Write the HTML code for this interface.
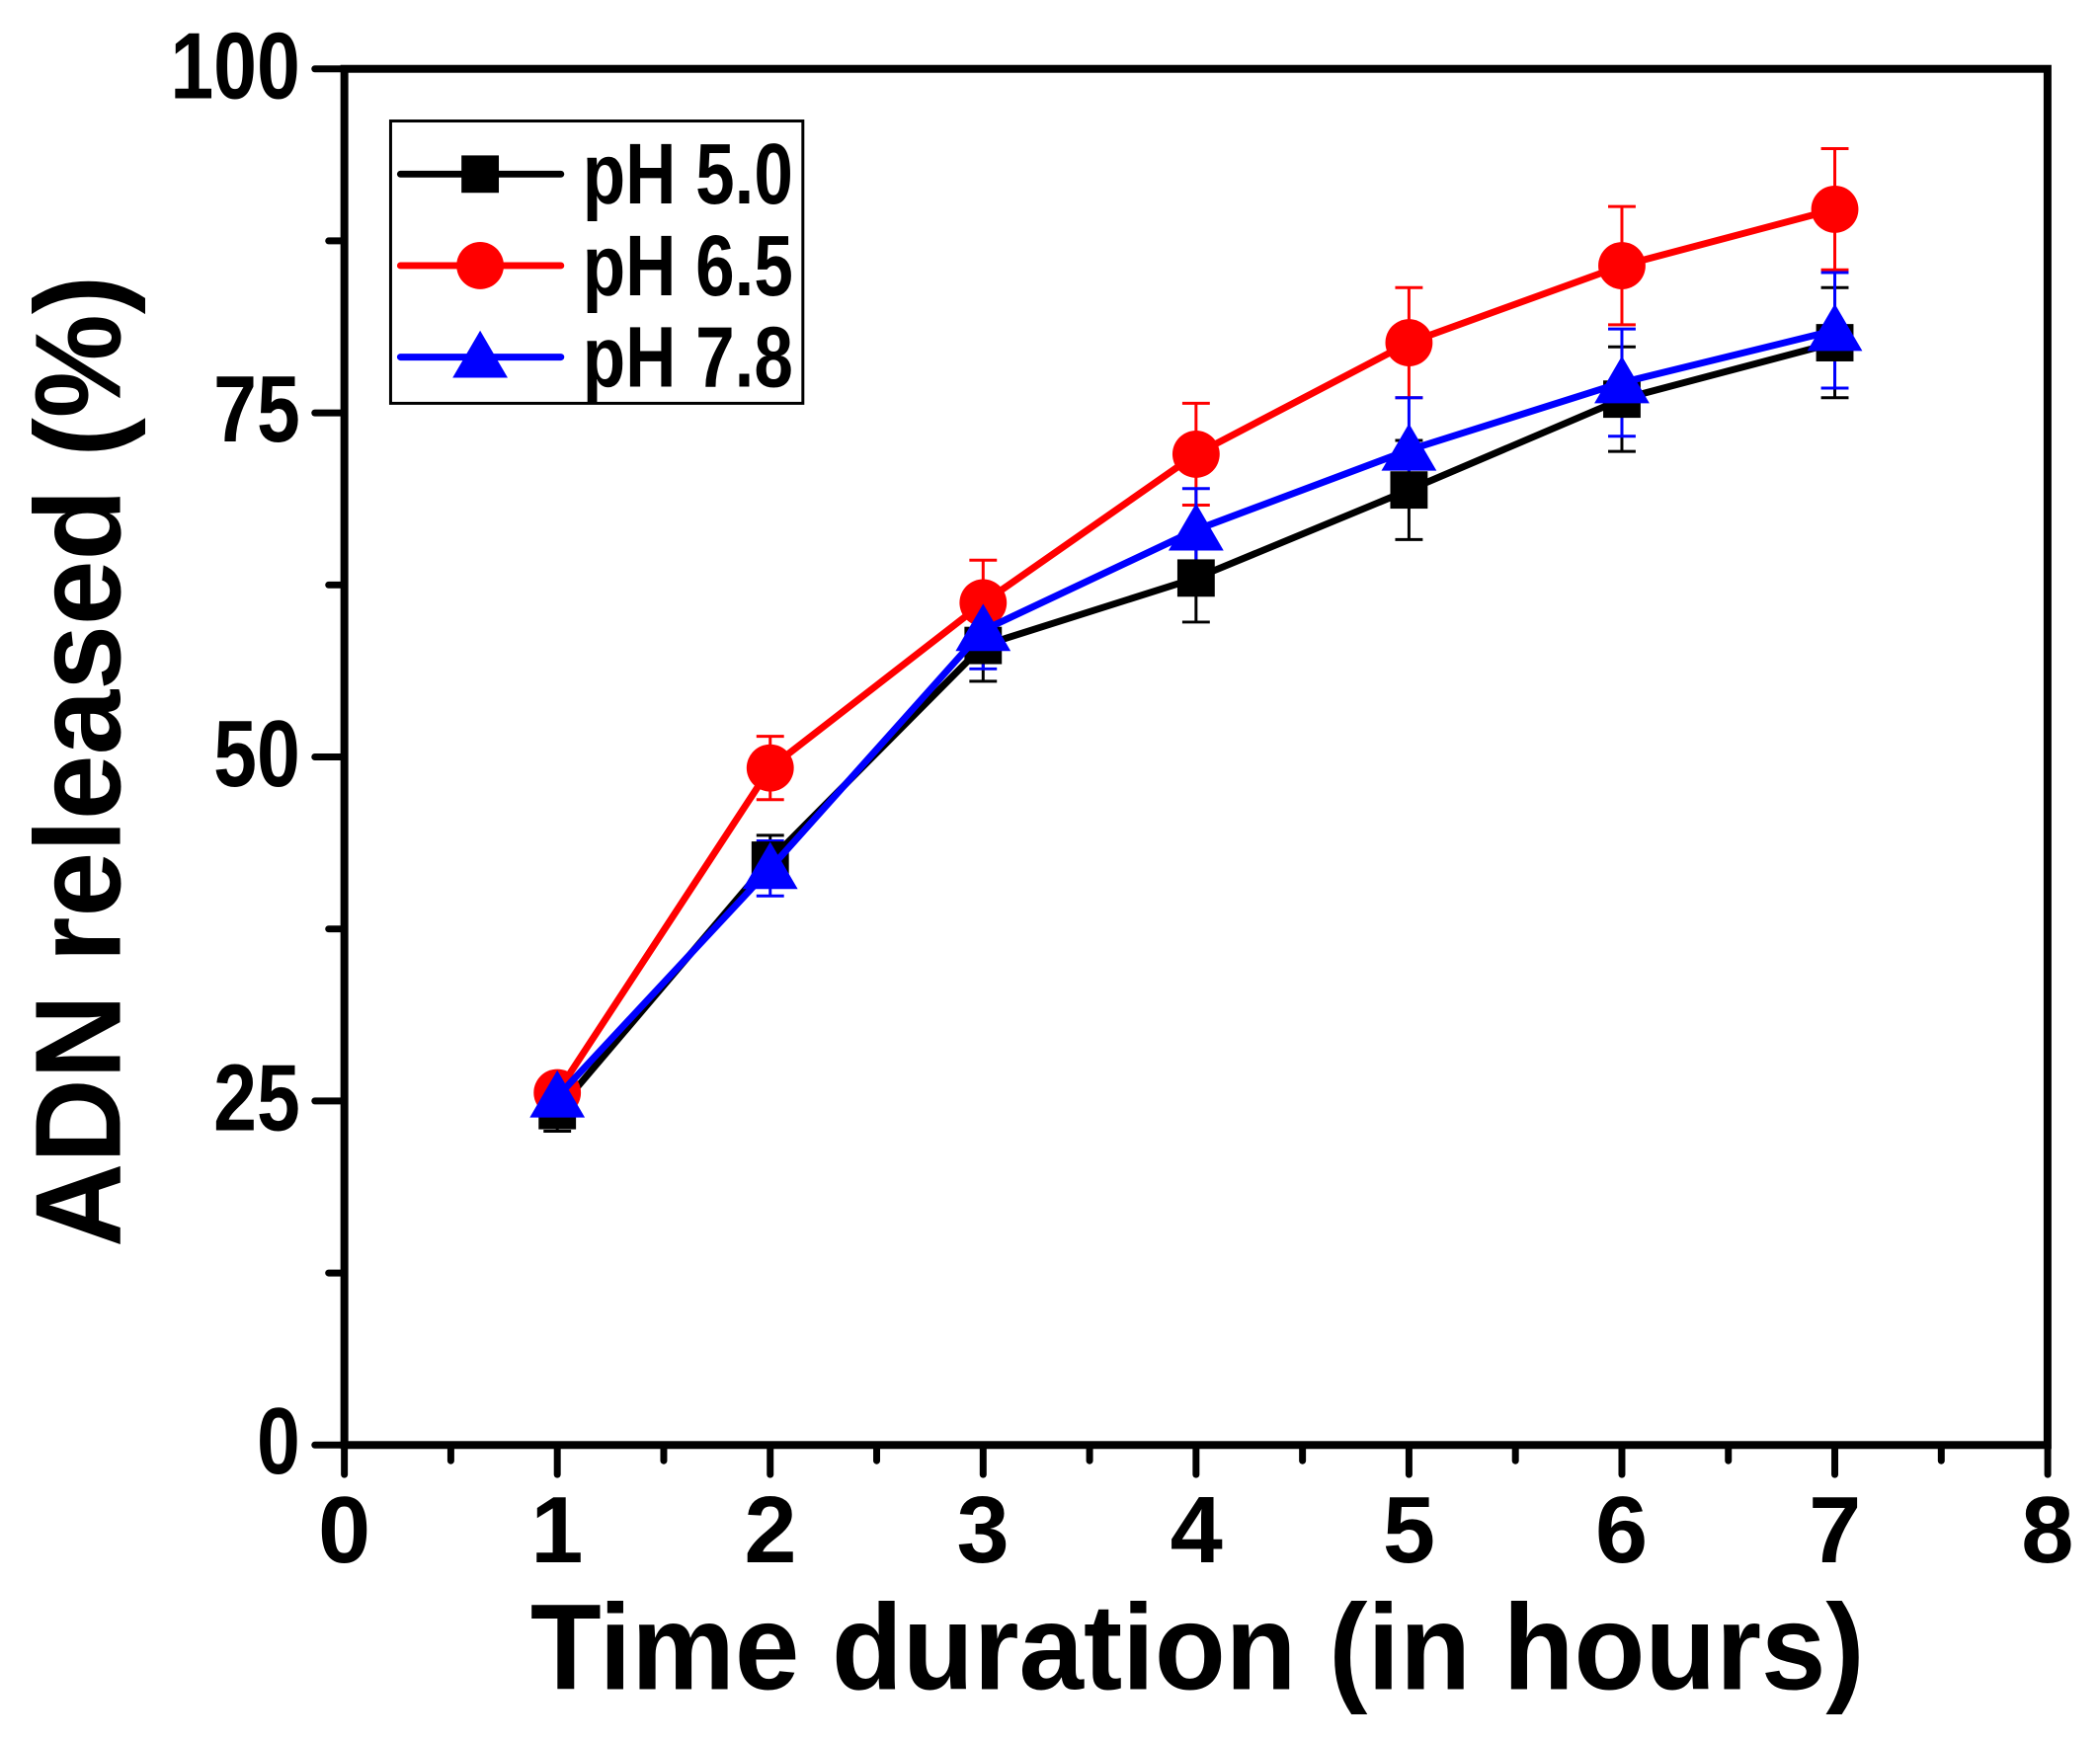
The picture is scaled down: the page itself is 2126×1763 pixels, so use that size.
<!DOCTYPE html>
<html><head><meta charset="utf-8"><style>
html,body{margin:0;padding:0;background:#fff;}
svg{display:block;}
text{font-family:"Liberation Sans",Arial,sans-serif;font-weight:bold;fill:#000;}
</style></head><body>
<svg id="s" width="2126" height="1763" viewBox="0 0 2126 1763" xmlns="http://www.w3.org/2000/svg">
<rect width="2126" height="1763" fill="#fff"/>
<g transform="scale(0.9961)">
<g id="ticks" stroke="#000" stroke-width="7" stroke-linecap="round"></g>
<rect x="350" y="70" width="1731" height="1399" fill="none" stroke="#000" stroke-width="8"/>
<g id="data"></g>
<g font-size="96" text-anchor="end">
<text x="305" y="100" textLength="132" lengthAdjust="spacingAndGlyphs">100</text>
<text x="305" y="449" textLength="88" lengthAdjust="spacingAndGlyphs">75</text>
<text x="305" y="799" textLength="88" lengthAdjust="spacingAndGlyphs">50</text>
<text x="305" y="1149" textLength="88" lengthAdjust="spacingAndGlyphs">25</text>
<text x="305" y="1498" textLength="44" lengthAdjust="spacingAndGlyphs">0</text>
</g>
<g font-size="96" text-anchor="middle">
<text x="350" y="1588">0</text>
<text x="566" y="1588">1</text>
<text x="783" y="1588">2</text>
<text x="999" y="1588">3</text>
<text x="1216" y="1588">4</text>
<text x="1432" y="1588">5</text>
<text x="1648" y="1588">6</text>
<text x="1865" y="1588">7</text>
<text x="2081" y="1588">8</text>
</g>
<text x="539" y="1717" font-size="124" textLength="1356" lengthAdjust="spacingAndGlyphs">Time duration (in hours)</text>
<text transform="translate(122,1268) rotate(-90)" font-size="124" textLength="988" lengthAdjust="spacingAndGlyphs">ADN released (%)</text>
<rect x="397" y="123" width="419" height="287" fill="#fff" stroke="#000" stroke-width="3"/>
<line x1="407" y1="177" x2="570" y2="177" stroke="#000" stroke-width="7" stroke-linecap="round"/>
<rect x="469" y="158" width="38" height="38" fill="#000"/>
<line x1="407" y1="270" x2="570" y2="270" stroke="#f00" stroke-width="7" stroke-linecap="round"/>
<circle cx="488" cy="270" r="24" fill="#f00"/>
<line x1="407" y1="363" x2="570" y2="363" stroke="#00f" stroke-width="7" stroke-linecap="round"/>
<polygon points="488,336 516,384 460,384" fill="#00f"/>
<g font-size="88">
<text x="592" y="207" textLength="214" lengthAdjust="spacingAndGlyphs">pH 5.0</text>
<text x="592" y="300" textLength="214" lengthAdjust="spacingAndGlyphs">pH 6.5</text>
<text x="592" y="393" textLength="214" lengthAdjust="spacingAndGlyphs">pH 7.8</text>
</g>
</g>
</svg>
<script>
var NS="http://www.w3.org/2000/svg";
function X(t){return 350+216.4*t;}
function Y(v){return 1469-13.99*v;}
function el(p,n,a){var e=document.createElementNS(NS,n);for(var k in a)e.setAttribute(k,a[k]);p.appendChild(e);return e;}
var tk=document.getElementById('ticks');
for(var i=0;i<=16;i++){var x=X(i/2);el(tk,'line',{x1:x,y1:1469,x2:x,y2:1469+(i%2?16:30)});}
for(var i=0;i<=8;i++){var y=Y(i*12.5);el(tk,'line',{x1:350,y1:y,x2:350-(i%2?16:30),y2:y});}
var series=[
 {c:'#000',v:[24.3,42.5,58.1,63.0,69.4,76.0,80.1],e:[1.5,1.8,2.6,3.2,3.6,3.8,4.0],m:'sq'},
 {c:'#f00',v:[25.6,49.2,61.2,72.0,80.1,85.7,89.8],e:[1.0,2.3,3.1,3.7,4.0,4.3,4.4],m:'ci'},
 {c:'#00f',v:[25.3,41.9,59.2,66.5,72.3,77.2,81.0],e:[1.2,2.0,2.8,3.0,3.8,3.9,4.2],m:'tr'}
];
var d=document.getElementById('data');
series.forEach(function(s){
 s.v.forEach(function(v,i){var x=X(i+1);
  el(d,'line',{x1:x,y1:Y(v-s.e[i]),x2:x,y2:Y(v+s.e[i]),stroke:s.c,'stroke-width':3});
  [v-s.e[i],v+s.e[i]].forEach(function(w){el(d,'line',{x1:x-14,y1:Y(w),x2:x+14,y2:Y(w),stroke:s.c,'stroke-width':3});});
 });
});
series.forEach(function(s){
 var pts=s.v.map(function(v,i){return X(i+1)+','+Y(v);}).join(' ');
 el(d,'polyline',{points:pts,fill:'none',stroke:s.c,'stroke-width':7,'stroke-linejoin':'round'});
 s.v.forEach(function(v,i){var x=X(i+1),y=Y(v);
  if(s.m=='sq')el(d,'rect',{x:x-19,y:y-19,width:38,height:38,fill:s.c});
  else if(s.m=='ci')el(d,'circle',{cx:x,cy:y,r:24,fill:s.c});
  else el(d,'polygon',{points:x+','+(y-27)+' '+(x+28)+','+(y+21)+' '+(x-28)+','+(y+21),fill:s.c});
 });
});
</script>
</body></html>
